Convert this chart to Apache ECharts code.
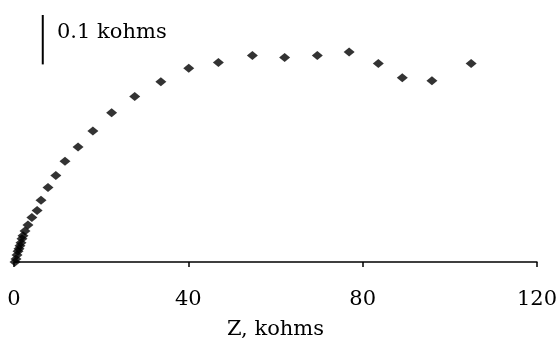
<!DOCTYPE html>
<html>
<head>
<meta charset="utf-8">
<script src="https://cdn.jsdelivr.net/npm/echarts@6/dist/echarts.min.js"></script>
<style>html,body{margin:0;padding:0;background:#fff;}#c{width:560px;height:345px;}</style>
</head>
<body>
<div id="c"></div>
<script>
// Real part Z (kohms)
var zReal = [0.23,0.46,0.69,0.92,1.15,1.37,1.60,1.83,2.06,2.52,3.2,4.1,5.3,6.2,7.8,9.6,11.7,14.7,18.1,22.4,27.7,33.7,40.1,46.9,54.7,62.1,69.6,76.9,83.6,89.1,95.9,104.9];
// Imaginary part (kohms)
var zImag = [0,0.006,0.014,0.022,0.027,0.033,0.039,0.047,0.053,0.063,0.075,0.090,0.104,0.125,0.151,0.175,0.204,0.233,0.265,0.302,0.335,0.365,0.392,0.404,0.418,0.414,0.418,0.425,0.402,0.373,0.367,0.402];
var xTicks = [0, 40, 80, 120];
var xAxisTitle = 'Z, kohms';
// Scale bar: 0.1 kohms
var scaleBarX = 6.6;
var scaleBarY = [0.4, 0.5];
var scaleBarLabel = '0.1 kohms';

var points = zReal.map(function (x, i) { return [x, zImag[i]]; });
var font = '"DejaVu Serif", "Liberation Serif", serif';

var chart = echarts.init(document.getElementById('c'));
chart.setOption({
  animation: false,
  backgroundColor: '#fff',
  grid: { left: 14, right: 22, top: 15, bottom: 75, containLabel: false },
  xAxis: {
    type: 'value', min: xTicks[0], max: xTicks[xTicks.length - 1], interval: 40,
    name: xAxisTitle, nameLocation: 'middle', nameGap: 57,
    nameTextStyle: { fontFamily: font, fontSize: 21, color: '#000' },
    axisLine: { show: true, lineStyle: { color: '#000', width: 1.5 } },
    axisTick: { show: true, inside: false, length: 5, lineStyle: { color: '#000', width: 1.5 } },
    axisLabel: { fontFamily: font, fontSize: 21, color: '#000', margin: 27 },
    splitLine: { show: false }
  },
  yAxis: {
    type: 'value', min: 0, max: 0.5, show: false, splitLine: { show: false }
  },
  graphic: [{
    type: 'text', left: 57, top: 22,
    style: { text: scaleBarLabel, font: '21px ' + font, fill: '#000' }
  }],
  series: [{
    type: 'scatter',
    data: points,
    symbol: 'diamond',
    symbolSize: [11, 9],
    itemStyle: { color: '#000' }
  }, {
    type: 'line',
    data: [[scaleBarX, scaleBarY[0]], [scaleBarX, scaleBarY[1]]],
    symbol: 'none',
    lineStyle: { color: '#000', width: 2 }
  }]
});
</script>
</body>
</html>
